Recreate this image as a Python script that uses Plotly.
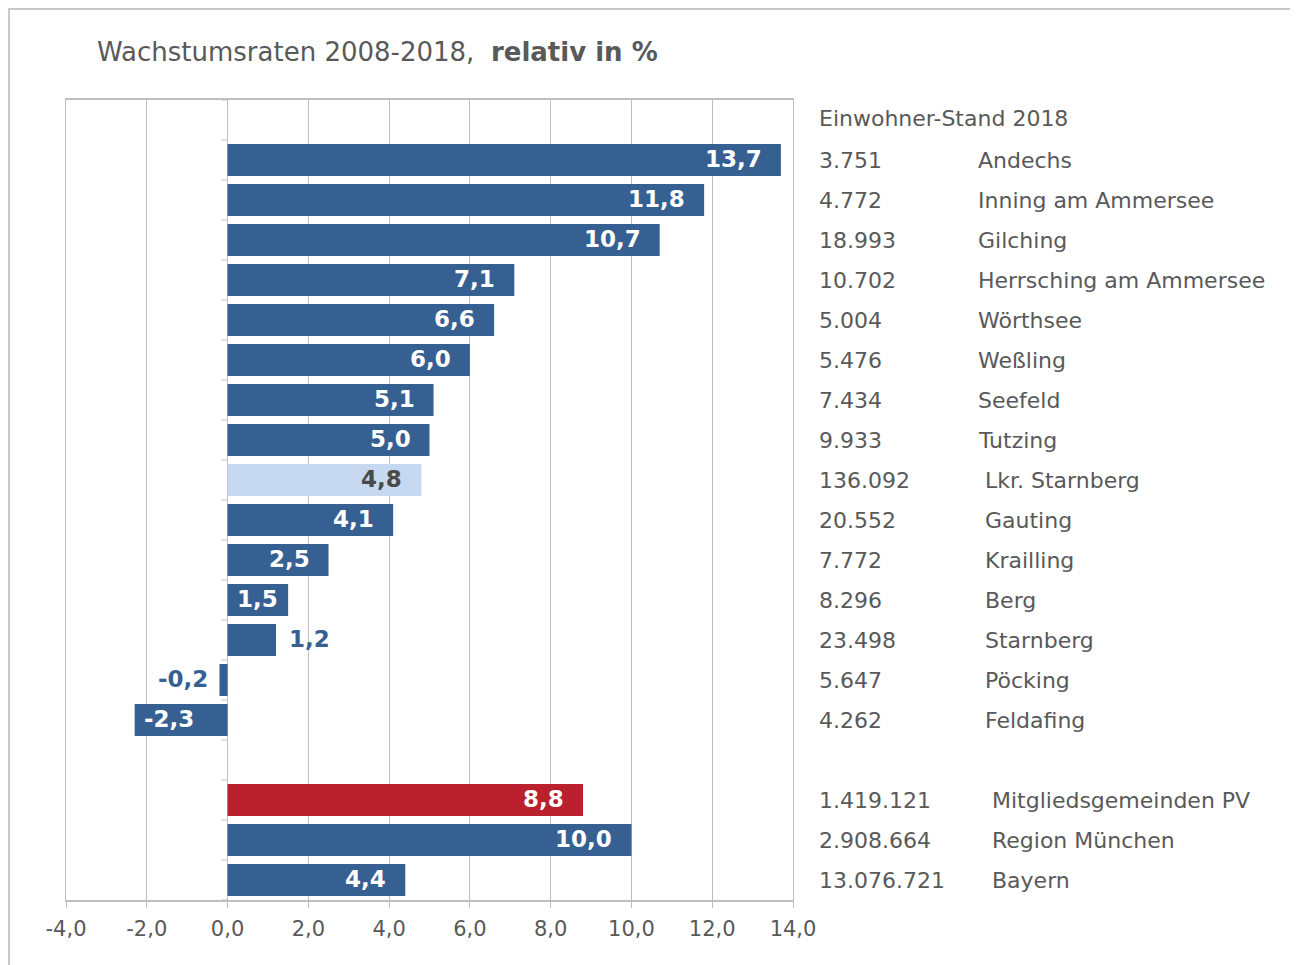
import plotly.graph_objects as go

# Wachstumsraten 2008-2018 in %, Einwohner-Stand 2018
gemeinden = ["Andechs", "Inning am Ammersee", "Gilching", "Herrsching am Ammersee",
             "Wörthsee", "Weßling", "Seefeld", "Tutzing", "Lkr. Starnberg", "Gauting",
             "Krailling", "Berg", "Starnberg", "Pöcking", "Feldafing"]
gemeinden_wachstum = [13.7, 11.8, 10.7, 7.1, 6.6, 6.0, 5.1, 5.0, 4.8, 4.1, 2.5, 1.5, 1.2, -0.2, -2.3]
gemeinden_einwohner = [3751, 4772, 18993, 10702, 5004, 5476, 7434, 9933, 136092, 20552,
                       7772, 8296, 23498, 5647, 4262]

regionen = ["Mitgliedsgemeinden PV", "Region München", "Bayern"]
regionen_wachstum = [8.8, 10.0, 4.4]
regionen_einwohner = [1419121, 2908664, 13076721]

x_ticks = [-4, -2, 0, 2, 4, 6, 8, 10, 12, 14]

TOP = " "      # leere Zeile fuer die Spaltenueberschrift
GAP = "  "     # leere Zeile zwischen Gemeinden und Regionen

kategorien = [TOP] + gemeinden + [GAP] + regionen
werte = [None] + gemeinden_wachstum + [None] + regionen_wachstum
einwohner = [None] + gemeinden_einwohner + [None] + regionen_einwohner

BLAU = "#376092"
HELLBLAU = "#C6D9F1"
ROT = "#BA202E"
GRAU = "#595959"
LINIE = "#BFBFBF"
FONT = "DejaVu Sans"

farben = []
for k in kategorien:
    if k == "Lkr. Starnberg":
        farben.append(HELLBLAU)
    elif k == "Mitgliedsgemeinden PV":
        farben.append(ROT)
    else:
        farben.append(BLAU)

# plot area in figure pixels (page body has an 8px margin)
W, H = 1298, 965
L, R, T, B = 58, 785, 92, 892


def px_x(px):
    return (px - L) / (R - L)


def px_y(px):
    return (B - px) / (B - T)


fig = go.Figure(
    go.Bar(
        y=kategorien,
        x=werte,
        orientation="h",
        marker=dict(color=farben, line=dict(width=0)),
        hoverinfo="skip",
    )
)

annotations = []

# Werte an den Balken
sonder = {"Starnberg": "outside", "Pöcking": "outside", "Berg": "center"}
for k, v in zip(kategorien, werte):
    if v is None:
        continue
    txt = f"{v:.1f}".replace(".", ",")
    pos = sonder.get(k, "inside")
    farbe = "white"
    if k == "Lkr. Starnberg":
        farbe = "#4A4A4A"
    if pos == "outside":
        farbe = BLAU
    if pos == "center":
        ax_x, anchor, shift = v / 2, "center", 0
    elif pos == "inside":
        if v > 0:
            ax_x, anchor, shift = v, "right", -17
        else:
            ax_x, anchor, shift = v, "left", 7
    else:
        if v > 0:
            ax_x, anchor, shift = v, "left", 11
        else:
            ax_x, anchor, shift = v, "right", -9
    annotations.append(dict(
        x=ax_x, y=k, xref="x", yref="y", text=txt, showarrow=False,
        xanchor=anchor, yanchor="middle", xshift=shift, yshift=1,
        font=dict(family=FONT, size=23, color=farbe, weight="bold"),
    ))

# Spalte rechts: Einwohner und Namen
text_font = dict(family=FONT, size=22, color=GRAU)
annotations.append(dict(
    x=px_x(809), y=TOP, xref="paper", yref="y", text="Einwohner-Stand 2018",
    showarrow=False, xanchor="left", yanchor="middle", yshift=2, font=text_font,
))
for i, (k, n) in enumerate(zip(kategorien, einwohner)):
    if n is None:
        continue
    annotations.append(dict(
        x=px_x(809), y=k, xref="paper", yref="y", text=f"{n:,}".replace(",", "."),
        showarrow=False, xanchor="left", yanchor="middle", font=text_font,
    ))
    if i <= 8 and k != "Lkr. Starnberg":
        name_x = 968
    elif i <= 15:
        name_x = 975
    else:
        name_x = 982
    annotations.append(dict(
        x=px_x(name_x), y=k, xref="paper", yref="y", text=k,
        showarrow=False, xanchor="left", yanchor="middle", font=text_font,
    ))

# kleine Teilstriche an der y-Achse bei x = 0
shapes = []
for i in range(len(kategorien) + 1):
    shapes.append(dict(
        type="line", xref="x", yref="y", xsizemode="pixel", xanchor=0,
        x0=-6, x1=0, y0=i - 0.5, y1=i - 0.5, line=dict(color=LINIE, width=1),
    ))

# Rahmen um die ganze Grafik
shapes.append(dict(
    type="rect", xref="paper", yref="paper",
    x0=px_x(1), x1=px_x(W + 20), y0=px_y(H + 20), y1=px_y(1),
    line=dict(color="#C8C8C8", width=2), layer="below",
))

fig.update_layout(
    width=W,
    height=H,
    margin=dict(l=L, r=W - R, t=T, b=H - B),
    paper_bgcolor="white",
    plot_bgcolor="white",
    bargap=0.2,
    showlegend=False,
    title=dict(
        text="Wachstumsraten 2008-2018,  <b>relativ in %</b>",
        x=89 / W, xanchor="left", y=1 - 44 / H, yanchor="middle",
        font=dict(family=FONT, size=26, color=GRAU),
    ),
    annotations=annotations,
    shapes=shapes,
)

fig.update_xaxes(
    range=[-4, 14],
    tickvals=x_ticks,
    ticktext=[f"{t:.1f}".replace(".", ",") for t in x_ticks],
    showgrid=True, gridcolor=LINIE, gridwidth=1,
    zeroline=True, zerolinecolor=LINIE, zerolinewidth=1,
    showline=True, linecolor=LINIE, linewidth=2, mirror=True,
    ticks="outside", ticklen=6, tickcolor=LINIE,
    ticklabelstandoff=3,
    tickfont=dict(family=FONT, size=21, color=GRAU),
)

fig.update_yaxes(
    categoryorder="array",
    categoryarray=kategorien,
    range=[len(kategorien) - 0.5, -0.5],
    showticklabels=False,
    showgrid=False,
    zeroline=False,
    showline=True, linecolor=LINIE, linewidth=1, mirror=True,
    ticks="",
)

fig.write_html("out.html")
